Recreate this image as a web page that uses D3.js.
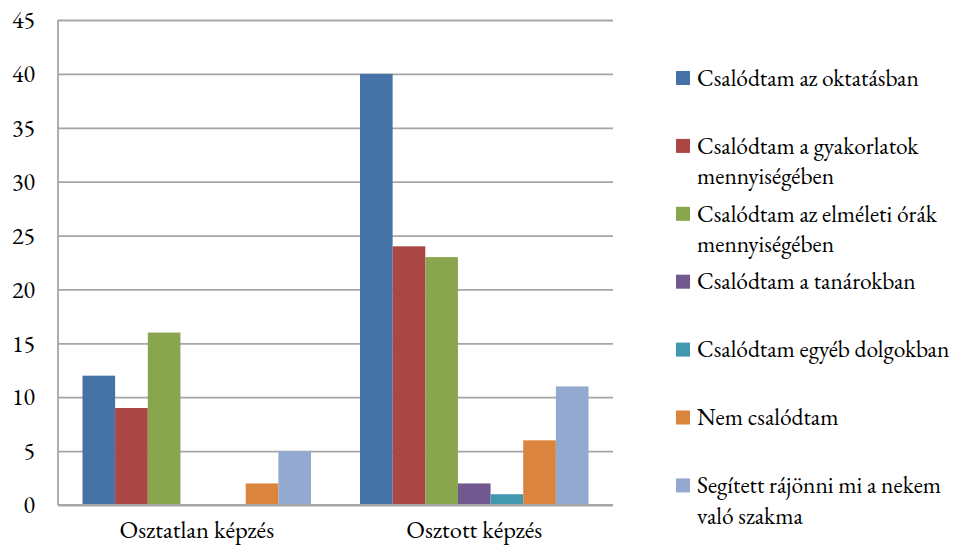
<!DOCTYPE html>
<html>
<head>
<meta charset="utf-8">
<script src="https://cdn.jsdelivr.net/npm/d3@7"></script>
<style>
  html, body { margin: 0; padding: 0; background: #fff; }
  svg { display: block; }
</style>
</head>
<body>
<svg id="chart" width="961" height="549"></svg>
<script>
// Categories along the x axis
const categories = ["Osztatlan képzés", "Osztott képzés"];

// Series names (legend order, wrapped lines) and their colours
const seriesNames = [
  ["Csalódtam az oktatásban"],
  ["Csalódtam a gyakorlatok", "mennyiségében"],
  ["Csalódtam az elméleti órák", "mennyiségében"],
  ["Csalódtam a tanárokban"],
  ["Csalódtam egyéb dolgokban"],
  ["Nem csalódtam"],
  ["Segített rájönni mi a nekem", "való szakma"]
];
const seriesColors = ["#4572A7", "#AA4643", "#89A54E", "#71588F", "#4198AF", "#DB843D", "#93A9CF"];

// Values per series, one entry per category
const values = [
  [12, 40],
  [9, 24],
  [16, 23],
  [0, 2],
  [0, 1],
  [2, 6],
  [5, 11]
];

const yTicks = [0, 5, 10, 15, 20, 25, 30, 35, 40, 45];

const FONT = '"EB Garamond", "Liberation Serif", serif';
const svg = d3.select("#chart");
const plot = { left: 58, right: 613, top: 20, bottom: 505 };

const x0 = d3.scaleBand().domain(categories).range([plot.left, plot.right]);
// 7 bars plus a 150% gap in each category
const gapRatio = 1.5;
const barW = x0.bandwidth() / (seriesNames.length + gapRatio);
const x1 = d3.scaleBand()
  .domain(d3.range(seriesNames.length))
  .range([barW * gapRatio / 2, x0.bandwidth() - barW * gapRatio / 2]);

const y = d3.scaleLinear().domain([0, 45]).range([plot.bottom, plot.top]);

// Horizontal gridlines with value labels
const yAxis = d3.axisLeft(y).tickValues(yTicks)
  .tickSize(-(plot.right - plot.left)).tickFormat(d => d).tickPadding(23);
const gy = svg.append("g").attr("transform", `translate(${plot.left},0)`).call(yAxis);
gy.select(".domain").remove();
gy.selectAll(".tick line").attr("stroke", "#a6a6a6").attr("stroke-width", 1.8);
gy.selectAll(".tick text").attr("fill", "#000")
  .style("font-family", FONT).style("font-size", "24px");

// Bars
const groups = svg.append("g").selectAll("g")
  .data(categories)
  .join("g")
  .attr("transform", d => `translate(${x0(d)},0)`);

groups.selectAll("rect")
  .data((c, ci) => values.map((v, si) => ({ si, v: v[ci] })))
  .join("rect")
  .attr("x", d => x1(d.si))
  .attr("width", x1.bandwidth())
  .attr("y", d => y(d.v))
  .attr("height", d => y(0) - y(d.v))
  .attr("fill", d => seriesColors[d.si]);

// Left axis line and baseline
svg.append("line").attr("x1", plot.left).attr("x2", plot.left)
  .attr("y1", plot.top).attr("y2", plot.bottom)
  .attr("stroke", "#a6a6a6").attr("stroke-width", 1.8);
svg.append("line").attr("x1", plot.left).attr("x2", plot.right)
  .attr("y1", plot.bottom).attr("y2", plot.bottom)
  .attr("stroke", "#a6a6a6").attr("stroke-width", 1.8);

// Category labels
const xAxis = d3.axisBottom(x0).tickSize(0).tickPadding(16);
const gx = svg.append("g").attr("transform", `translate(0,${plot.bottom})`).call(xAxis);
gx.select(".domain").remove();
gx.selectAll(".tick text").attr("fill", "#000")
  .style("font-family", FONT).style("font-size", "24.5px");

// Legend
const legend = svg.append("g").attr("transform", "translate(676,0)");
const legendTop = 78, legendStep = 67.9, lineH = 30.5;
const items = legend.selectAll("g")
  .data(seriesNames)
  .join("g")
  .attr("transform", (d, i) => `translate(0,${legendTop + i * legendStep})`);
items.append("rect")
  .attr("x", 0).attr("y", -7).attr("width", 14).attr("height", 14)
  .attr("fill", (d, i) => seriesColors[i]);
items.append("text")
  .attr("x", 21)
  .attr("fill", "#000")
  .style("font-family", FONT).style("font-size", "23.5px")
  .selectAll("tspan")
  .data(d => d)
  .join("tspan")
  .attr("x", 21)
  .attr("y", (d, i) => i * lineH)
  .attr("dy", "0.33em")
  .text(d => d);
</script>
</body>
</html>
